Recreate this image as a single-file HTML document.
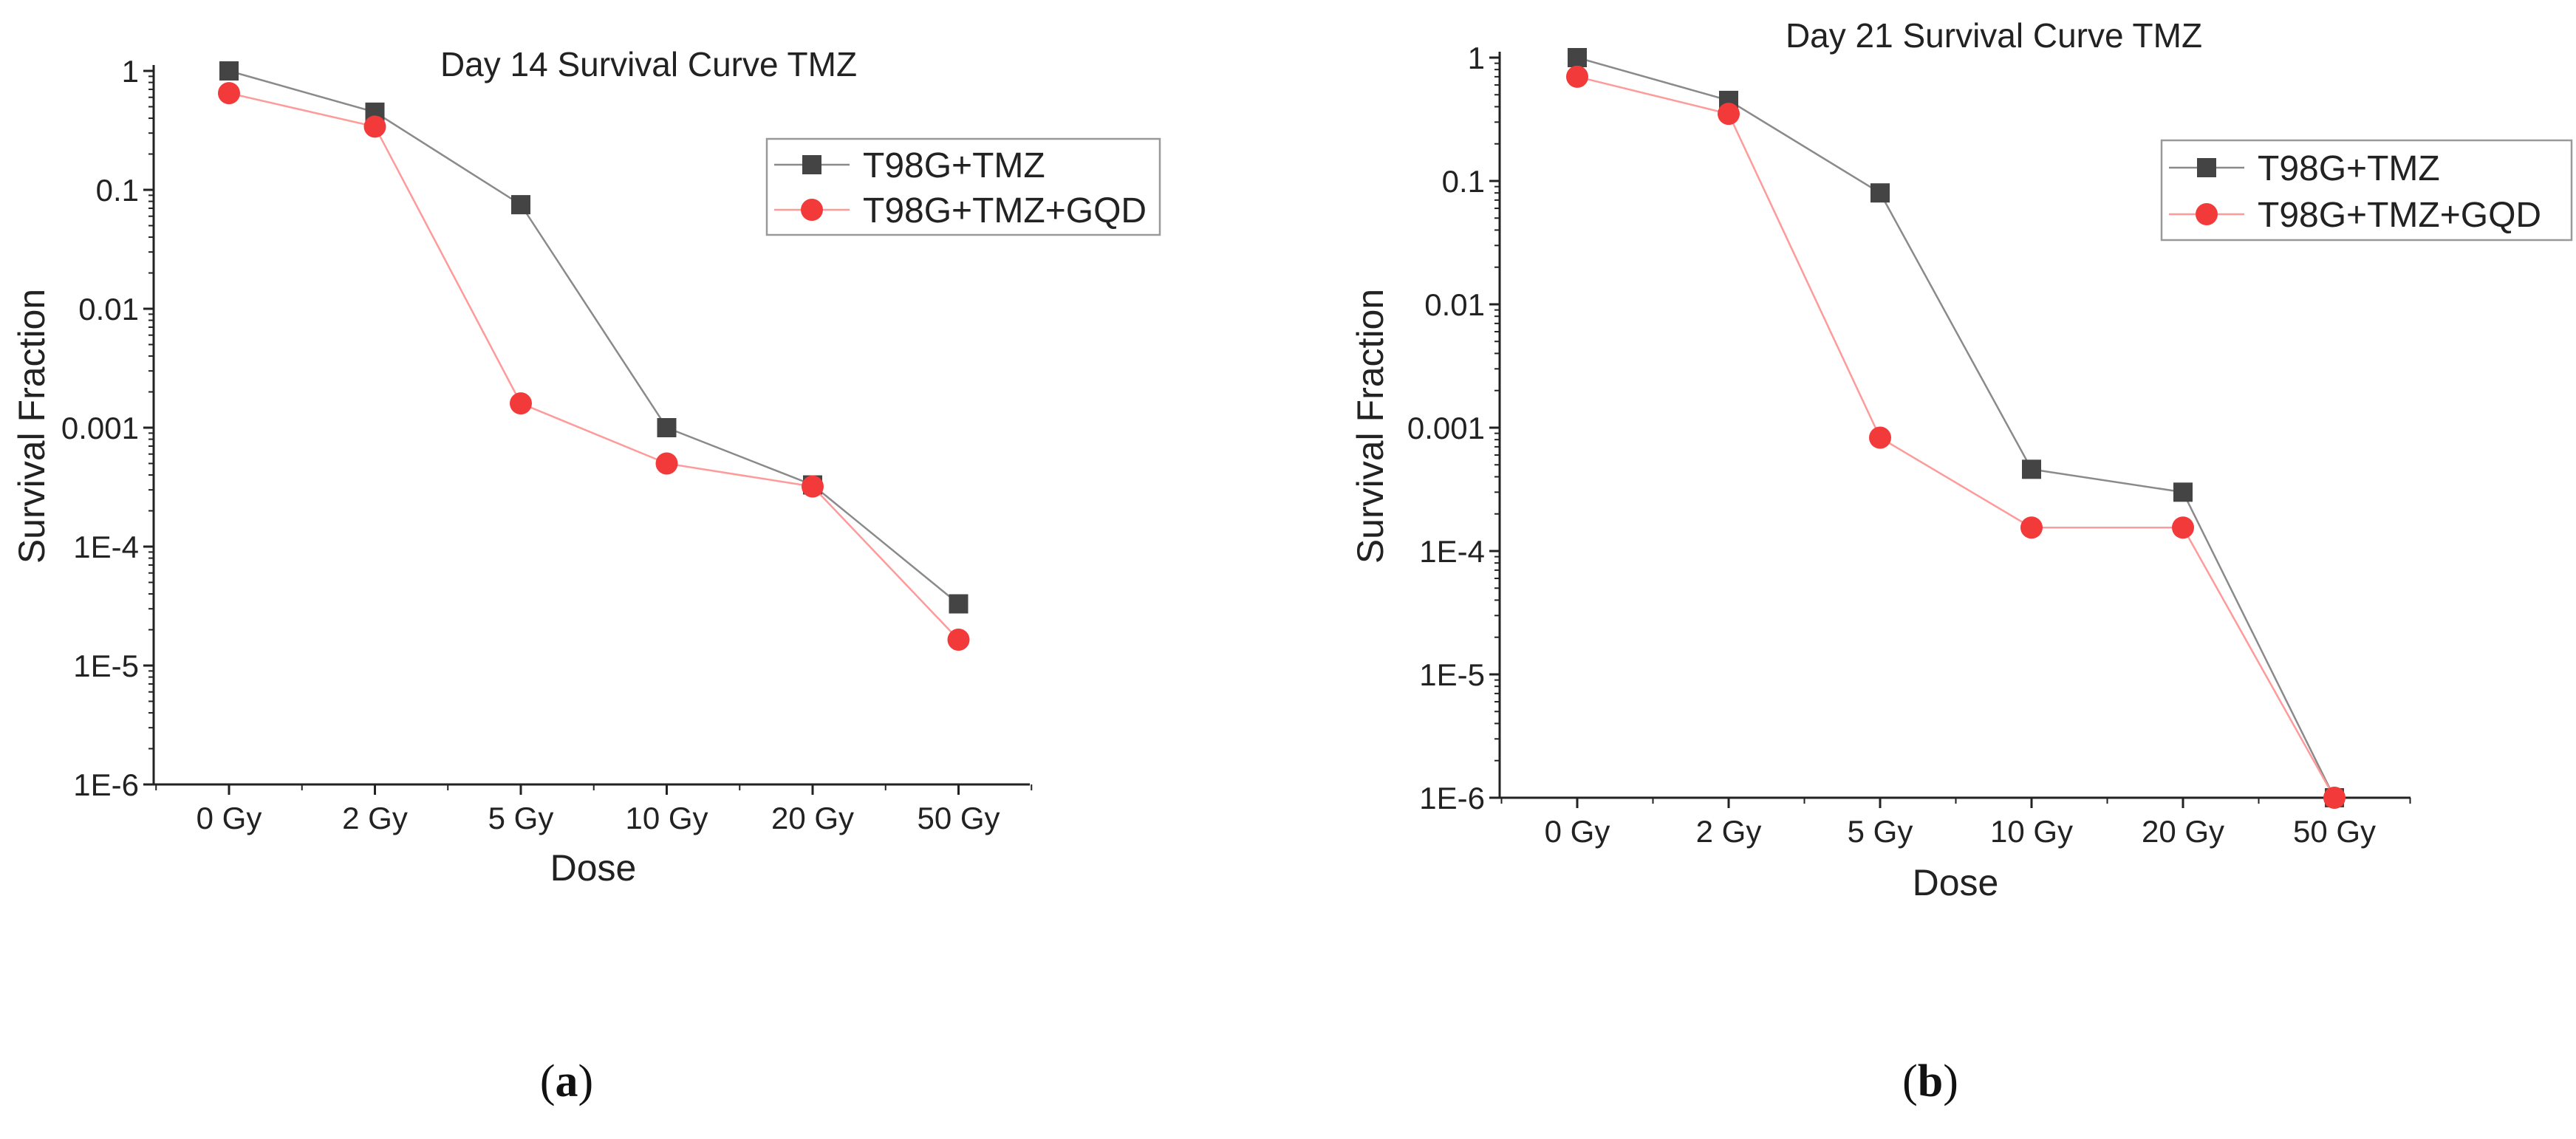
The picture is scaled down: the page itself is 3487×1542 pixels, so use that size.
<!DOCTYPE html>
<html><head><meta charset="utf-8"><style>
html,body{margin:0;padding:0;background:#fff;}
svg{display:block;font-family:"Liberation Sans",sans-serif;}
</style></head><body>
<svg id="fig" width="3487" height="1542" viewBox="0 0 3487 1542"></svg>
<script>
const categories = ["0 Gy","2 Gy","5 Gy","10 Gy","20 Gy","50 Gy"];
const yTickValues = [1,0.1,0.01,0.001,1e-4,1e-5,1e-6];
const yTickLabels = ["1","0.1","0.01","0.001","1E-4","1E-5","1E-6"];
const seriesNames = ["T98G+TMZ","T98G+TMZ+GQD"];
const day14Tmz = [1,0.45,0.075,0.001,0.00033,0.000033];
const day14Gqd = [0.65,0.34,0.0016,0.0005,0.00032,0.0000165];
const day21Tmz = [1,0.45,0.08,0.00046,0.0003,0.000001];
const day21Gqd = [0.7,0.35,0.00083,0.000155,0.000155,0.000001];

const NS="http://www.w3.org/2000/svg";
const svg=document.getElementById('fig');
function el(tag,attrs,parent,text){const e=document.createElementNS(NS,tag);for(const k in attrs)e.setAttribute(k,attrs[k]);if(text!==undefined)e.textContent=text;(parent||svg).appendChild(e);return e;}

function chart(cfg){
  const g=el('g',{});
  
  
  const yOf=v=>cfg.yTop+(Math.log10(1)-Math.log10(v))*(cfg.yBot-cfg.yTop)/6;
  const xOf=i=>cfg.c0+i*cfg.cs;
  const t=el('text',{x:cfg.titleX,y:cfg.titleY,'font-size':46,'text-anchor':'middle',fill:'#222'},g,cfg.title);
  
  const ya=el('line',{x1:cfg.ax,y1:cfg.yTop-8,x2:cfg.ax,y2:cfg.yBot,stroke:'#222','stroke-width':3},g);
  
  const xa=el('line',{x1:cfg.ax,y1:cfg.yBot,x2:cfg.axEnd,y2:cfg.yBot,stroke:'#222','stroke-width':3},g);
  
  yTickValues.forEach((v,i)=>{
    const y=yOf(v);
    el('line',{x1:cfg.ax-14,y1:y,x2:cfg.ax,y2:y,stroke:'#222','stroke-width':3},g);
    const lb=el('text',{x:cfg.ax-20,y:y+15,'font-size':42,'text-anchor':'end',fill:'#222'},g,yTickLabels[i]);
    
    if(i<yTickValues.length-1){for(let m=2;m<=9;m++){const ym=yOf(v/10*m);el('line',{x1:cfg.ax-7,y1:ym,x2:cfg.ax,y2:ym,stroke:'#222','stroke-width':2},g);}}
  });
  categories.forEach((c,i)=>{
    const x=xOf(i);
    el('line',{x1:x,y1:cfg.yBot,x2:x,y2:cfg.yBot+14,stroke:'#222','stroke-width':3},g);
    el('line',{x1:x-cfg.cs/2,y1:cfg.yBot,x2:x-cfg.cs/2,y2:cfg.yBot+8,stroke:'#222','stroke-width':2},g);
    const lb=el('text',{x:x,y:cfg.xlabY,'font-size':42,'text-anchor':'middle',fill:'#222'},g,c);
    
  });
  el('line',{x1:xOf(5)+cfg.cs/2,y1:cfg.yBot,x2:xOf(5)+cfg.cs/2,y2:cfg.yBot+8,stroke:'#222','stroke-width':2},g);
  const xt=el('text',{x:cfg.doseX,y:cfg.doseY,'font-size':50,'text-anchor':'middle',fill:'#222'},g,'Dose');
  
  const yt=el('text',{x:0,y:0,'font-size':50,'text-anchor':'middle',fill:'#222',transform:`translate(${cfg.ylabX},${cfg.ylabY}) rotate(-90)`},g,'Survival Fraction');
  
  const series=[{d:cfg.s1,line:'#8a8a8a',mk:'#444',sq:true},{d:cfg.s2,line:'#ff9a9a',mk:'#f23a3a',sq:false}];
  series.forEach((s,si)=>{
    const pts=s.d.map((v,i)=>xOf(i)+','+yOf(v)).join(' ');
    const pl=el('polyline',{points:pts,fill:'none',stroke:s.line,'stroke-width':2.5},g);
    
    s.d.forEach((v,i)=>{
      let m;
      if(s.sq) m=el('rect',{x:xOf(i)-13,y:yOf(v)-13,width:26,height:26,fill:s.mk},g);
      else m=el('circle',{cx:xOf(i),cy:yOf(v),r:15,fill:s.mk},g);
      
    });
  });
  const lg=el('g',{},g);
  
  el('rect',{x:cfg.lx,y:cfg.ly,width:cfg.lw,height:cfg.lh,fill:'#fff',stroke:'#999','stroke-width':2.5},lg);
  series.forEach((s,si)=>{
    const y=cfg.ly+cfg.le[si];
    const le=el('g',{},lg);
    
    el('line',{x1:cfg.lx+10,y1:y,x2:cfg.lx+112,y2:y,stroke:s.line,'stroke-width':2.5},le);
    const mx=cfg.lx+61;
    if(s.sq) el('rect',{x:mx-13,y:y-13,width:26,height:26,fill:s.mk},le);
    else el('circle',{cx:mx,cy:y,r:15,fill:s.mk},le);
    el('text',{x:cfg.lx+130,y:y+17,'font-size':48,fill:'#222'},le,seriesNames[si]);
  });
}

chart({name:'chart-day14',title:'Day 14 Survival Curve TMZ',titleX:878,titleY:103,ax:208,axEnd:1394,yTop:96,yBot:1062,c0:310,cs:197.5,
  xlabY:1122,doseX:803,doseY:1192,ylabX:60,ylabY:577,s1:day14Tmz,s2:day14Gqd,lx:1038,ly:188,lw:532,lh:130,le:[35,96]});
chart({name:'chart-day21',title:'Day 21 Survival Curve TMZ',titleX:2699,titleY:64,ax:2030,axEnd:3263,yTop:78,yBot:1080,c0:2135,cs:205,
  xlabY:1140,doseX:2647,doseY:1212,ylabX:1872,ylabY:577,s1:day21Tmz,s2:day21Gqd,lx:2926,ly:190,lw:555,lh:135,le:[37,100]});

const ca=el('text',{x:767,y:1484,'font-size':62,'text-anchor':'middle',fill:'#111','font-family':'Liberation Serif, serif'});
ca.innerHTML='(<tspan font-weight="bold">a</tspan>)';

const cb=el('text',{x:2613,y:1484,'font-size':62,'text-anchor':'middle',fill:'#111','font-family':'Liberation Serif, serif'});
cb.innerHTML='(<tspan font-weight="bold">b</tspan>)';

</script>
</body></html>
